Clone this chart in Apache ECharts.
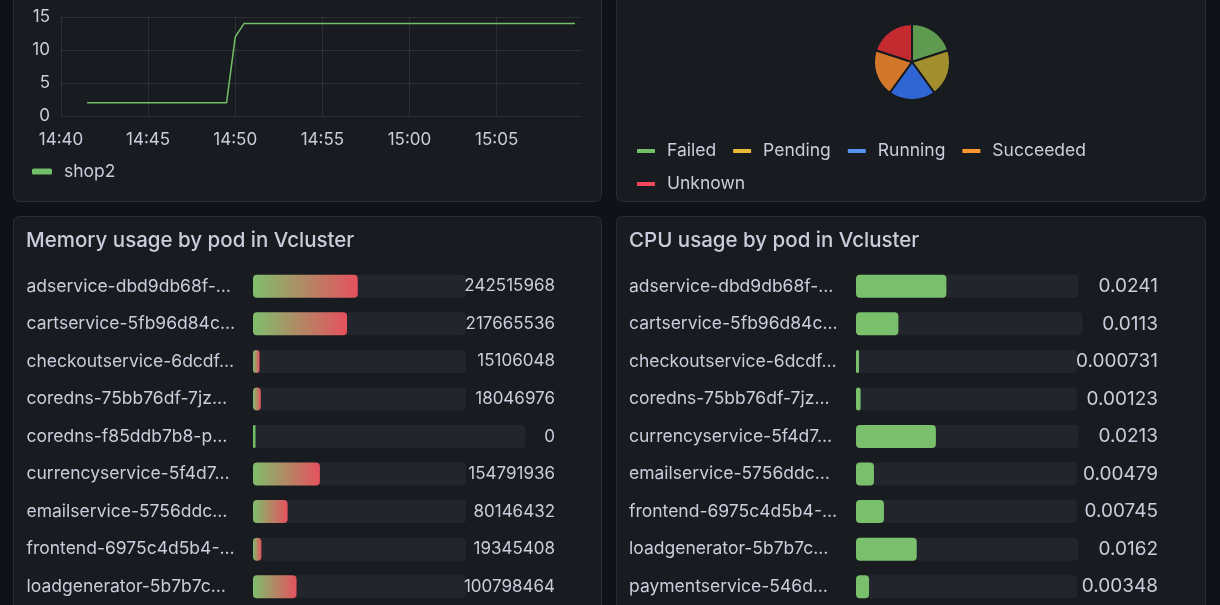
<!DOCTYPE html>
<html><head><meta charset="utf-8">
<script src="https://cdn.jsdelivr.net/npm/echarts@6/dist/echarts.min.js"></script>
<style>html,body{margin:0;padding:0;background:#111217;}#c{width:1220px;height:605px;}</style>
</head><body><div id="c"></div>
<script>
// ---------- data ----------
const lineSeriesName = 'shop2';
const lineTimes = ['14:41:30', '14:49:30', '14:50:00', '14:50:30', '15:09:30'];
const lineValues = [2, 2, 12, 14, 14];
const timeRange = ['14:40:00', '15:09:54'];
const timeTicks = ['14:40', '14:45', '14:50', '14:55', '15:00', '15:05'];

const phaseNames = ['Failed', 'Pending', 'Running', 'Succeeded', 'Unknown'];
const phaseCounts = [1, 1, 1, 1, 1];

const memTitle = 'Memory usage by pod in Vcluster';
const memPods = ['adservice-dbd9db68f-…', 'cartservice-5fb96d84c…', 'checkoutservice-6dcdf…', 'coredns-75bb76df-7jz…',
  'coredns-f85ddb7b8-p…', 'currencyservice-5f4d7…', 'emailservice-5756ddc…', 'frontend-6975c4d5b4-…', 'loadgenerator-5b7b7c…'];
const memValues = [242515968, 217665536, 15106048, 18046976, 0, 154791936, 80146432, 19345408, 100798464];
const memMax = 500000000;

const cpuTitle = 'CPU usage by pod in Vcluster';
const cpuPods = ['adservice-dbd9db68f-…', 'cartservice-5fb96d84c…', 'checkoutservice-6dcdf…', 'coredns-75bb76df-7jz…',
  'currencyservice-5f4d7…', 'emailservice-5756ddc…', 'frontend-6975c4d5b4-…', 'loadgenerator-5b7b7c…', 'paymentservice-546d…'];
const cpuValues = [0.0241, 0.0113, 0.000731, 0.00123, 0.0213, 0.00479, 0.00745, 0.0162, 0.00348];
const cpuMax = 0.06;

// ---------- style ----------
const FONT = 'Inter';
const TXT = '#ccccdc';
const PANEL = '#181b1f';
const PANEL_BORDER = '#2c2e34';
const GRID_LINE = 'rgba(204,204,220,0.11)';
const BAR_BG = '#22252b';
const BAR_H = 23;
const GREEN = '#73bf69';
const phaseSliceColors = ['#5f9a51', '#a38f2e', '#3066d3', '#d3782b', '#c42b31'];
const phaseLegendColors = ['#73bf69', '#eab839', '#5794f2', '#ff9830', '#f2495c'];

const toMin = t => { const p = t.split(':').map(Number); return p[0] * 60 + p[1] + (p[2] || 0) / 60; };
const fmtHM = v => { const h = Math.floor(v / 60), m = Math.round(v - h * 60); return h + ':' + String(m).padStart(2, '0'); };

const measureCtx = document.createElement('canvas').getContext('2d');
const textW = (s, size) => { measureCtx.font = size + 'px ' + FONT; return measureCtx.measureText(s).width; };

const memLabels = memValues.map(v => String(v));
const cpuLabels = cpuValues.map(v => String(Number(v.toPrecision(3))));

function gaugeBg(gridIdx, labels, valueRight, fontSize, pad, cap) {
  return {
    type: 'custom', xAxisIndex: gridIdx, yAxisIndex: gridIdx, z: 2, silent: true,
    data: labels.map((l, i) => [0, i]),
    encode: { x: 0, y: 1 },
    renderItem(params, api) {
      const i = params.dataIndex;
      const p = api.coord([0, i]);
      const end = valueRight - Math.min(textW(labels[i], fontSize) + pad, cap);
      return {
        type: 'group', children: [
          { type: 'rect', shape: { x: p[0], y: p[1] - BAR_H / 2, width: end - p[0], height: BAR_H, r: 4 }, style: { fill: BAR_BG } },
          { type: 'text', x: valueRight, y: p[1], z2: 10,
            style: { text: labels[i], align: 'right', textAlign: 'right', verticalAlign: 'middle', textVerticalAlign: 'middle', fill: TXT, font: fontSize + 'px ' + FONT } }
        ]
      };
    }
  };
}

const catAxis = (gridIdx, data, margin) => ({
  type: 'category', gridIndex: gridIdx, data, inverse: true,
  axisLine: { show: false }, axisTick: { show: false }, splitLine: { show: false },
  axisLabel: { show: true, interval: 0, align: 'left', margin, color: TXT, fontSize: 17.5, fontFamily: FONT }
});

const chart = echarts.init(document.getElementById('c'), null, { renderer: 'canvas' });
chart.setOption({
  backgroundColor: '#111217',
  animation: false,
  graphic: { elements: [
    { type: 'rect', z: -10, shape: { x: 13.5, y: -20, width: 588, height: 221.5, r: 6 }, style: { fill: PANEL, stroke: PANEL_BORDER, lineWidth: 1 } },
    { type: 'rect', z: -10, shape: { x: 616.5, y: -20, width: 589, height: 221.5, r: 6 }, style: { fill: PANEL, stroke: PANEL_BORDER, lineWidth: 1 } },
    { type: 'rect', z: -10, shape: { x: 13.5, y: 216.5, width: 588, height: 420, r: 6 }, style: { fill: PANEL, stroke: PANEL_BORDER, lineWidth: 1 } },
    { type: 'rect', z: -10, shape: { x: 616.5, y: 216.5, width: 589, height: 420, r: 6 }, style: { fill: PANEL, stroke: PANEL_BORDER, lineWidth: 1 } }
  ]},
  title: [
    { text: memTitle, left: 26, top: 230.5, padding: 0, textStyle: { color: TXT, fontSize: 20.5, fontWeight: 500, fontFamily: FONT } },
    { text: cpuTitle, left: 629, top: 230.5, padding: 0, textStyle: { color: TXT, fontSize: 20.5, fontWeight: 500, fontFamily: FONT } }
  ],
  legend: [
    { data: [lineSeriesName], left: 32, top: 161.5, padding: 0, icon: 'roundRect', itemWidth: 20, itemHeight: 6,
      textStyle: { color: TXT, fontSize: 17.5, fontFamily: FONT, lineHeight: 20, padding: [0, 0, 0, 7] } },
    { data: phaseNames.map((n, i) => ({ name: n, itemStyle: { color: phaseLegendColors[i] } })),
      left: 635, top: 142, width: 500, padding: 0, itemGap: 15, icon: 'roundRect', itemWidth: 20, itemHeight: 6,
      textStyle: { color: TXT, fontSize: 17.5, fontFamily: FONT, lineHeight: 16, padding: [0, 0, 0, 6] } }
  ],
  grid: [
    { left: 61, top: 17, width: 521, height: 99, outerBoundsMode: 'none' },
    { left: 253, top: 267.5, width: 216, height: 338, outerBoundsMode: 'none' },
    { left: 856, top: 267.5, width: 225, height: 338, outerBoundsMode: 'none' }
  ],
  xAxis: [
    { type: 'value', gridIndex: 0, min: toMin(timeRange[0]), max: toMin(timeRange[1]), interval: 5,
      axisLine: { show: false }, axisTick: { show: false }, splitLine: { show: false },
      axisLabel: { color: TXT, fontSize: 17, fontFamily: FONT, margin: 15, showMaxLabel: false,
        formatter: v => (Math.abs(v % 5) < 1e-6 ? fmtHM(v) : '') } },
    { type: 'value', gridIndex: 1, min: 0, max: memMax, show: false },
    { type: 'value', gridIndex: 2, min: 0, max: cpuMax, show: false }
  ],
  yAxis: [
    { type: 'value', gridIndex: 0, min: 0, max: 15, interval: 5,
      axisLine: { show: false }, axisTick: { show: false },
      splitLine: { show: true, lineStyle: { color: GRID_LINE, width: 1 } },
      axisLabel: { color: TXT, fontSize: 17, fontFamily: FONT, margin: 11 } },
    catAxis(1, memPods, 226.5),
    catAxis(2, cpuPods, 227)
  ],
  series: [
    { name: lineSeriesName, type: 'line', xAxisIndex: 0, yAxisIndex: 0, showSymbol: false, symbol: 'none', z: 3,
      color: GREEN, lineStyle: { color: GREEN, width: 1.5 },
      data: lineTimes.map((t, i) => [toMin(t), lineValues[i]]),
      markLine: { silent: true, symbol: 'none', label: { show: false }, animation: false, z: 1,
        lineStyle: { color: GRID_LINE, type: 'solid', width: 1 },
        data: timeTicks.map(t => ({ xAxis: toMin(t) })) } },
    { type: 'pie', center: [912, 62], radius: 38, startAngle: 90, clockwise: true,
      label: { show: false }, labelLine: { show: false },
      itemStyle: { borderColor: PANEL, borderWidth: 2 },
      data: phaseNames.map((n, i) => ({ name: n, value: phaseCounts[i], itemStyle: { color: phaseSliceColors[i] } })) },
    gaugeBg(1, memLabels, 555, 17, 19, 89),
    { type: 'bar', xAxisIndex: 1, yAxisIndex: 1, barWidth: BAR_H, barMinHeight: 2.5, z: 5,
      data: memValues.map(v => v === 0 ? { value: v, itemStyle: { color: GREEN } } : v),
      itemStyle: { borderRadius: 4,
        color: new echarts.graphic.LinearGradient(0, 0, 1, 0, [{ offset: 0, color: '#7fbe6c' }, { offset: 1, color: '#e5525e' }]) } },
    gaugeBg(2, cpuLabels, 1158, 19, 20, 81),
    { type: 'bar', xAxisIndex: 2, yAxisIndex: 2, data: cpuValues, barWidth: BAR_H, barMinHeight: 3, z: 5,
      itemStyle: { borderRadius: 4, color: '#7abf6c' } }
  ]
});
</script></body></html>
